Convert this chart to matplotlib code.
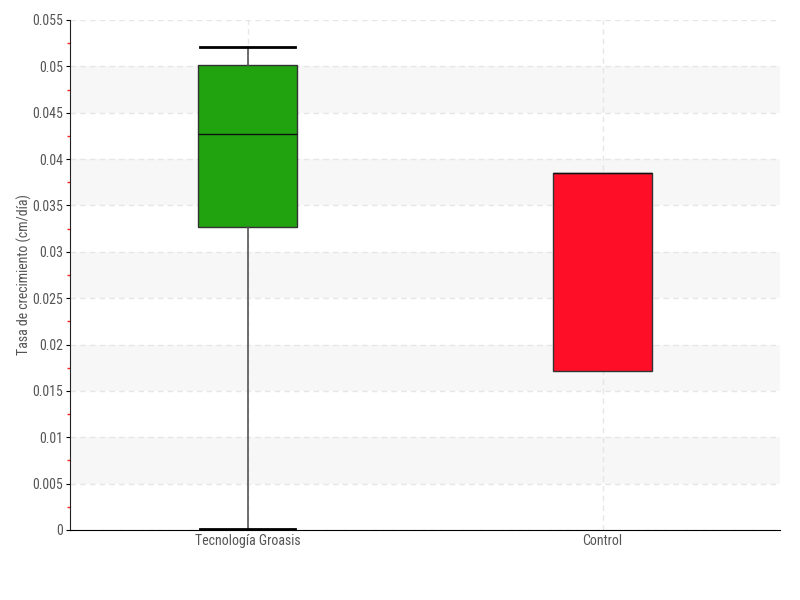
import matplotlib.pyplot as plt
import numpy as np
from matplotlib.ticker import MultipleLocator, FuncFormatter
from matplotlib import font_manager

nombres = {f.name for f in font_manager.fontManager.ttflist}
familias = [f for f in ['Liberation Sans Narrow', 'DejaVu Sans Condensed', 'Roboto Condensed'] if f in nombres]
plt.rcParams['font.family'] = familias + ['DejaVu Sans']
plt.rcParams['font.stretch'] = 'condensed'

# Datos
grupos = ["Tecnología Groasis", "Control"]
q1 = [0.0327, 0.0171]
mediana = [0.0427, 0.0385]
q3 = [0.0501, 0.0385]
bigote_inf = [0.0001, 0.0171]
bigote_sup = [0.0521, 0.0385]
colores = ["#21a30f", "#ff0e27"]

stats = []
for i in range(len(grupos)):
    stats.append({"label": grupos[i], "q1": q1[i], "med": mediana[i], "q3": q3[i],
                  "whislo": bigote_inf[i], "whishi": bigote_sup[i], "fliers": []})

fig = plt.figure(figsize=(8, 6), dpi=100)
ax = fig.add_axes([0.0875, 0.1167, 0.8875, 0.85])

# bandas grises alternas
for y0 in np.arange(0.005, 0.055, 0.01):
    ax.axhspan(y0, y0 + 0.005, color="#f7f7f7", zorder=0, lw=0)

bp = ax.bxp(stats, positions=[1, 2], widths=0.28, capwidths=0.27, patch_artist=True,
            showfliers=False, manage_ticks=False)
for caja, c in zip(bp["boxes"], colores):
    caja.set_facecolor(c)
    caja.set_edgecolor("#333333")
    caja.set_linewidth(1)
for m in bp["medians"]:
    m.set_color("#111111")
    m.set_linewidth(1)
for w in bp["whiskers"]:
    w.set_color("#555555")
    w.set_linewidth(1.2)
for cap in bp["caps"]:
    cap.set_color("black")
    cap.set_linewidth(2)
# caps de Control no visibles
bp["caps"][2].set_visible(False)
bp["caps"][3].set_visible(False)

ax.set_xlim(0.5, 2.5)
ax.set_ylim(0, 0.055)
ax.yaxis.set_major_locator(MultipleLocator(0.005))
ax.yaxis.set_minor_locator(MultipleLocator(0.0025))
ax.yaxis.set_major_formatter(FuncFormatter(lambda v, p: "0" if abs(v) < 1e-9 else f"{v:g}"))
ax.set_xticks([1, 2])
ax.set_xticklabels(grupos)

ax.grid(axis="y", which="major", color="#e6e6e6", linestyle=(0, (4, 3)), lw=1)
ax.grid(axis="x", which="major", color="#e6e6e6", linestyle=(0, (4, 3)), lw=1)
ax.set_axisbelow(True)

ax.tick_params(axis="y", which="major", length=3, color="black", labelsize=10, labelcolor="#555555", pad=2)
ax.tick_params(axis="y", which="minor", length=2, width=1, color="#ff2020")
ax.tick_params(axis="x", length=0, labelsize=10, labelcolor="#555555", pad=3)
for s in ["top", "right"]:
    ax.spines[s].set_visible(False)
ax.spines["left"].set_color("#222222")
ax.spines["bottom"].set_color("black")

ax.set_ylabel("Tasa de crecimiento (cm/día)", fontsize=10, color="#555555")
ax.yaxis.set_label_coords(-0.053, 0.5)

fig.savefig("out.png", dpi=100)
